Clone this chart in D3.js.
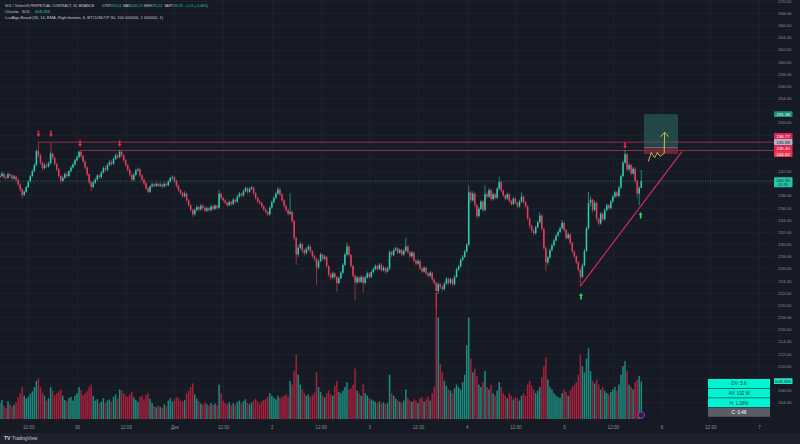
<!DOCTYPE html>
<html><head><meta charset="utf-8">
<script src="https://cdn.jsdelivr.net/npm/d3@7"></script>
<style>
html,body{margin:0;padding:0;background:#161a25;overflow:hidden;}
svg{display:block;font-family:"Liberation Sans",Arial,sans-serif;}
</style></head><body>
<svg id="c" width="800" height="444"></svg>
<script>
// ---------------- DATA ----------------
const firstOpen = 241.0;
const closes = [
241.2,241.6,241.0,240.9,241.5,241.3,240.8,241.1,240.6,239.8,
239.0,238.1,238.6,239.4,240.3,241.2,242.0,243.0,245.3,244.6,
243.4,242.5,243.0,242.8,243.3,244.9,244.2,243.2,242.3,241.2,
240.4,240.9,241.5,241.2,242.0,242.6,243.1,243.8,244.3,245.2,
244.5,243.6,242.6,241.5,240.2,239.4,240.1,240.6,241.3,241.0,
241.8,242.5,242.2,243.0,243.5,243.2,244.0,244.6,244.3,245.2,
244.6,243.8,243.0,242.2,241.4,240.6,241.4,242.1,242.3,241.3,
240.6,240.0,239.2,238.6,239.5,239.8,239.6,239.9,239.6,239.8,
239.5,239.9,239.7,240.3,240.9,241.0,240.4,239.6,238.9,238.4,
237.9,238.3,237.2,236.4,235.6,234.9,235.6,236.1,235.7,236.3,
236.0,235.5,235.9,235.6,236.2,235.8,236.3,236.0,238.3,237.6,
237.2,236.8,236.4,236.9,236.6,237.3,237.0,237.8,238.3,238.0,
238.7,239.2,238.6,239.1,239.3,238.4,237.6,237.0,236.8,236.2,
235.7,235.3,234.9,236.0,236.9,237.6,238.3,239.0,238.2,237.2,
236.3,235.6,235.0,235.3,233.8,231.0,228.3,229.4,230.0,229.0,
228.5,229.2,229.6,228.8,228.0,227.6,226.2,227.2,228.3,227.6,
227.9,226.4,225.0,224.5,225.2,224.6,223.6,224.4,225.3,226.6,
228.3,229.6,228.2,226.4,224.8,223.7,224.5,223.8,224.6,223.6,
224.5,225.2,224.6,225.4,225.9,226.4,225.9,226.6,225.7,226.1,
225.5,226.0,228.7,228.2,229.0,229.3,228.6,229.0,228.3,228.9,
229.6,228.7,228.0,228.6,227.3,226.8,227.2,226.0,225.5,226.1,
225.2,224.8,225.3,224.2,223.6,222.3,223.4,223.0,222.6,223.5,
224.3,223.6,224.2,223.4,224.6,225.8,226.3,227.4,227.9,228.8,
229.9,238.5,237.2,238.3,236.4,234.6,235.8,237.0,235.6,238.2,
237.8,238.9,237.4,238.2,237.6,239.1,240.2,238.8,238.0,237.5,
238.2,237.1,236.6,237.5,236.8,236.2,237.0,237.8,236.9,236.2,
234.2,233.0,232.2,231.8,232.8,233.6,234.7,232.5,229.4,227.0,
227.8,229.0,229.8,230.6,231.4,232.0,232.6,233.5,232.3,231.0,
231.6,230.2,228.8,228.0,227.0,225.8,224.6,226.5,228.9,232.6,
236.8,237.3,235.6,236.8,234.2,233.4,235.0,234.1,235.6,236.4,
235.9,237.0,237.8,238.5,237.9,239.3,241.2,243.4,244.8,242.3,
243.0,241.6,242.4,240.4,238.3,239.24,240.35
];
const highs = [
241.6,241.9,241.8,241.3,241.8,241.7,241.5,241.4,241.3,240.8,
240.0,239.2,238.9,239.6,240.5,241.4,242.3,243.3,245.6,246.77,
244.9,243.6,243.3,243.4,243.6,245.3,245.1,244.4,243.4,242.5,
241.4,241.2,241.8,241.9,242.2,242.9,243.4,244.0,244.6,245.4,
245.4,244.7,243.8,242.8,241.7,240.4,240.4,240.9,241.5,241.6,
242.0,242.8,242.9,243.3,243.8,243.9,244.3,244.9,244.9,245.5,
245.4,244.8,244.0,243.2,242.4,241.6,241.7,242.4,242.6,242.5,
241.5,240.8,240.2,239.4,239.7,240.1,240.0,240.2,240.1,240.1,
240.0,240.2,240.1,240.6,241.1,241.3,241.2,240.6,239.8,239.1,
238.6,238.7,238.5,237.4,236.6,235.8,235.9,236.4,236.3,236.6,
236.6,236.2,236.2,236.1,236.5,236.4,236.6,236.5,238.9,238.5,
237.8,237.4,237.0,237.2,237.1,237.6,237.5,238.1,238.6,238.5,
239.0,239.5,239.4,239.4,239.6,239.5,238.6,237.8,237.3,237.0,
236.4,235.9,235.5,236.3,237.2,237.9,238.6,239.4,239.2,238.4,
237.4,236.5,235.8,238.4,235.5,234.0,231.2,229.8,230.4,230.2,
229.3,229.5,229.9,229.8,229.0,228.3,227.8,227.5,228.6,228.5,
228.2,228.1,226.6,225.3,225.5,225.4,224.8,224.7,225.6,226.9,
228.6,230.3,229.8,228.4,226.6,225.0,224.8,224.7,224.9,224.8,
224.8,225.5,225.4,225.7,226.2,226.7,226.6,226.9,226.8,226.4,
226.3,226.3,229.0,228.9,229.3,229.6,229.5,229.3,229.2,229.2,
231.0,229.8,228.9,228.9,228.8,227.5,227.5,227.4,226.2,226.4,
226.3,225.4,225.6,225.5,224.4,223.8,223.7,223.6,223.2,223.8,
224.6,224.5,224.5,224.4,224.9,226.1,226.6,227.7,228.2,229.1,
230.2,239.7,238.8,238.7,238.5,236.6,236.1,237.3,237.2,239.7,
238.6,239.2,239.1,238.5,238.4,239.4,241.1,240.4,239.0,238.2,
238.5,238.4,237.3,237.8,237.7,237.0,237.3,238.5,238.0,237.1,
236.4,234.4,233.2,232.5,233.1,233.9,235.2,234.9,232.7,229.6,
228.1,229.3,230.1,230.9,231.7,232.3,232.9,234.0,233.7,232.5,
231.9,231.8,230.4,229.0,228.2,227.2,226.0,226.8,229.2,232.9,
238.6,237.9,237.5,237.2,237.0,234.4,235.3,235.2,235.9,236.7,
236.6,237.3,238.1,238.8,238.7,239.6,241.5,243.7,245.5,245.0,
243.4,243.2,242.7,242.6,240.6,239.6,242.19
];
const lows = [
240.8,241.0,240.7,240.5,240.7,241.0,240.5,240.6,240.3,239.5,
238.6,237.6,237.9,238.4,239.2,240.1,241.0,241.8,242.8,244.2,
243.0,242.1,242.3,242.5,242.6,243.1,243.9,242.9,242.0,240.9,
240.0,240.2,240.7,240.9,241.0,241.8,242.4,242.9,243.6,244.1,
244.2,243.3,242.3,241.2,239.9,238.7,239.2,239.9,240.4,240.7,
240.8,241.6,241.9,242.0,242.8,242.9,243.0,243.8,244.0,244.1,
244.3,243.5,242.7,241.9,241.1,240.3,240.4,241.2,241.9,241.0,
240.3,239.7,238.9,238.4,238.4,239.3,239.3,239.4,239.4,239.4,
239.2,239.3,239.4,239.5,240.1,240.6,240.1,239.3,238.6,238.1,
237.6,237.7,236.9,236.1,235.3,234.5,234.7,235.4,235.4,235.5,
235.7,235.2,235.3,235.3,235.4,235.5,235.6,235.7,235.8,237.3,
236.9,236.5,236.1,236.2,236.3,236.4,236.7,236.8,237.6,237.7,
237.8,238.5,238.3,238.4,238.9,238.1,237.3,236.7,236.5,235.9,
235.4,235.0,234.6,234.7,235.8,236.7,237.4,238.1,237.9,236.9,
236.0,235.3,234.7,234.8,233.5,230.6,226.6,227.9,229.1,228.6,
228.1,228.3,228.9,228.5,227.7,227.2,223.3,225.9,227.0,227.3,
227.3,226.1,224.6,224.1,224.3,224.2,222.2,223.4,224.2,225.1,
226.4,228.1,227.9,226.1,224.5,220.8,223.4,223.5,223.6,222.0,
223.4,224.3,224.3,224.4,225.2,225.7,225.6,225.7,225.4,225.5,
225.1,225.3,225.8,227.9,228.0,228.8,228.3,228.4,228.0,228.1,
228.7,228.4,227.7,227.8,227.0,226.5,226.6,225.7,225.2,225.3,
224.9,224.5,224.6,223.9,223.3,219.5,221.8,222.6,222.2,222.4,
223.3,223.3,223.4,223.1,223.2,224.4,225.6,226.1,227.2,227.7,
228.6,229.7,236.8,237.0,236.0,234.2,234.4,235.6,235.3,235.4,
237.5,237.6,237.1,237.2,237.3,237.4,238.9,238.5,237.7,237.2,
237.3,236.8,236.3,236.4,236.5,235.9,236.0,236.8,236.6,235.9,
233.9,232.6,231.9,231.4,231.6,232.6,233.4,232.2,229.0,225.6,
226.6,227.6,228.8,229.6,230.4,231.2,231.8,232.4,232.0,230.7,
230.8,229.9,228.5,227.7,226.7,225.5,223.1,224.4,226.3,228.7,
232.4,236.2,235.2,235.4,233.8,233.0,233.2,233.8,233.9,235.4,
235.6,235.7,236.8,237.6,237.6,237.7,239.1,241.0,243.2,242.0,
242.0,241.3,241.4,240.1,237.5,236.4,239.24
];
const volumesK = [
260,310,220,180,290,240,200,230,270,350,
420,520,380,330,360,410,450,520,620,660,
520,430,380,300,340,520,460,390,420,450,
480,380,310,290,340,360,300,380,420,520,
470,390,420,450,520,560,380,300,320,260,
280,340,260,300,320,280,360,400,330,480,
460,420,380,360,400,440,350,310,280,360,
380,320,400,420,330,260,210,190,220,200,
180,240,210,300,340,280,320,360,340,300,
280,310,420,460,520,580,400,330,290,250,
230,270,240,220,260,230,250,220,560,420,
300,260,240,270,220,260,230,280,300,250,
290,320,260,240,270,300,330,280,250,290,
310,330,360,420,380,350,320,380,340,360,
380,400,360,620,560,780,1050,720,560,480,
420,380,400,360,390,430,760,520,440,380,
350,420,460,400,380,540,620,440,420,460,
520,600,480,500,560,820,460,420,380,560,
420,380,340,320,300,280,260,290,250,270,
240,260,720,420,380,330,300,280,260,300,
480,340,300,280,320,300,260,340,360,280,
320,360,300,420,520,2050,1650,900,760,620,
540,480,460,420,500,560,520,480,600,720,
1200,1650,980,760,820,700,560,520,600,780,
520,480,560,420,380,460,600,520,420,380,
340,420,380,320,360,340,300,380,420,380,
560,620,540,480,420,460,520,680,860,1000,
640,520,480,420,380,360,340,420,480,440,
380,460,520,560,600,720,1050,860,760,980,
1150,780,620,580,640,560,480,520,460,420,
400,440,480,520,460,560,720,860,940,780,
560,520,480,600,640,700,608.36
];
const priceTicks = [270,268,266,264,262,260,258,256,254,252,250,248,246,244,242,240,238,236,234,232,230,228,226,224,222,220,218,216,214,212,210,208,206,204];
const timeTickDates = ["2024-11-29T12:00Z","2024-11-30T00:00Z","2024-11-30T12:00Z","2024-12-01T00:00Z","2024-12-01T12:00Z","2024-12-02T00:00Z","2024-12-02T12:00Z","2024-12-03T00:00Z","2024-12-03T12:00Z","2024-12-04T00:00Z","2024-12-04T12:00Z","2024-12-05T00:00Z","2024-12-05T12:00Z","2024-12-06T00:00Z","2024-12-06T12:00Z","2024-12-07T00:00Z"];
const timeTickLabels = ["12:00","30","12:00","Дек","12:00","2","12:00","3","12:00","4","12:00","5","12:00","6","12:00","7"];
const legendTitle = "SOL / TetherUS PERPETUAL CONTRACT, 30, BINANCE";
const legendOHLCNames = ["ОТКР","МАКС","МИН","ЗАКР"];
const legendOHLCValues = ["239,24","242,19","239,24","240,35"];
const legendChange = "+1,11 (+0,46%)";
const legendVolume = ["Объём · SOL","608,36K"];
const legendIndicator = "LuxAlgo Board (30, 14, EMA, Right bottom, 6, BTCUSDT.P 30, 100 000000, 1 000000, 1)";
// annotations (candle index, price)
const resistanceLines = [{from:19, price:246.77},{from:39.5, price:245.40}];
const downArrows = [[19,247.6],[25.2,247.6],[39.5,245.97],[59,245.97],[308,245.7]];
const upArrows = [[286.3,221.96],[315.7,235.28]];
const trendLine = [[286,223.1],[336,245.2]];
const positionBox = {start:317.3, end:334.1, target:251.38, entry:245.88, stop:244.82};
const zigzag = [[319.4,243.56],[320.9,245.05],[322.6,244.22],[323.9,245.05],[325.2,244.44],[327.3,244.94],[327.5,248.39]];
const zigzagHead = [[325.5,247.65],[327.5,248.39],[329.5,247.65]];
const currentPrice = 240.35;
const countdown = "11:35";
const lastVolumeLabel = "608.36K";
const axisTags = [
  {price:251.38, text:"251.38", bg:"#1f8f7c", fg:"#e8fff9"},
  {price:246.77, text:"246.77", bg:"#e0245e", fg:"#ffffff", y:136},
  {price:245.88, text:"245.88", bg:"#b2b5be", fg:"#20232c", y:142},
  {price:245.40, text:"245.40", bg:"#e0245e", fg:"#ffffff", y:148},
  {price:244.82, text:"244.82", bg:"#f23645", fg:"#ffffff", y:154}
];
const boardRows = ["DV: 5.6","AV: 132 M","H: 1.28%","C: 0.48"];

// ---------------- SCALES ----------------
const W = 800, H = 444, plotRight = 775, paneBottom = 421;
const t0 = Date.UTC(2024,10,29,5,0);
const step = 30*60000;
const xT = d3.scaleUtc().domain([new Date("2024-11-30T00:00Z"), new Date("2024-12-07T00:00Z")]).range([77, 759]);
const xi = i => xT(new Date(t0 + i*step));
const y = d3.scaleLinear().domain([202, 270]).range([414.4, 0.9]);
const yv = d3.scaleLinear().domain([0, 2050]).range([419, 293]);

const svg = d3.select("#c");
svg.append("rect").attr("width",W).attr("height",H).attr("fill","#161a25");
svg.append("rect").attr("x",0).attr("y",433).attr("width",W).attr("height",11).attr("fill","#1e222d");

const clip = svg.append("defs").append("clipPath").attr("id","pc");
clip.append("rect").attr("x",0).attr("y",0).attr("width",plotRight).attr("height",paneBottom);

// grid
const grid = svg.append("g");
grid.selectAll("line.h").data(priceTicks).join("line")
  .attr("x1",0).attr("x2",plotRight).attr("y1",d=>Math.round(y(d))+0.5).attr("y2",d=>Math.round(y(d))+0.5)
  .attr("stroke","#1c202b").attr("stroke-width",1);
grid.selectAll("line.v").data(timeTickDates).join("line")
  .attr("x1",d=>Math.round(xT(new Date(d)))+0.5).attr("x2",d=>Math.round(xT(new Date(d)))+0.5)
  .attr("y1",0).attr("y2",paneBottom).attr("stroke","#1c202b").attr("stroke-width",1);

const plot = svg.append("g").attr("clip-path","url(#pc)");

// candles data
const candles = closes.map((c,i)=>{
  const o = i===0 ? firstOpen : closes[i-1];
  return {i, o, c, h:highs[i], l:lows[i], v:volumesK[i], up:c>=o};
});
const GREEN="#2bcfb2", RED="#e5415c", VGREEN="#1c9a88", VRED="#b8203f";

// volume
plot.append("g").selectAll("rect").data(candles).join("rect")
  .attr("x",d=>xi(d.i)-0.75).attr("width",1.5)
  .attr("y",d=>yv(d.v)).attr("height",d=>yv(0)-yv(d.v))
  .attr("fill",d=>d.up?VGREEN:VRED).attr("opacity",0.9);

// reference lines
plot.selectAll("line.res").data(resistanceLines).join("line")
  .attr("x1",d=>xi(d.from)).attr("x2",plotRight)
  .attr("y1",d=>y(d.price)).attr("y2",d=>y(d.price))
  .attr("stroke","#a3304f").attr("stroke-width",0.9);
plot.append("line").attr("x1",xi(25.2)).attr("x2",xi(25.2))
  .attr("y1",y(246.77)).attr("y2",y(highs[25])).attr("stroke","#a3304f").attr("stroke-width",0.9);

// current price dotted line
plot.append("line").attr("x1",0).attr("x2",plotRight)
  .attr("y1",y(currentPrice)).attr("y2",y(currentPrice))
  .attr("stroke","#2a8f83").attr("stroke-width",0.8).attr("stroke-dasharray","1,1.5");

// position box
const pb = positionBox;
plot.append("rect").attr("x",xi(pb.start)).attr("width",xi(pb.end)-xi(pb.start))
  .attr("y",y(pb.target)).attr("height",y(pb.entry)-y(pb.target))
  .attr("fill","#2f6e66").attr("opacity",0.55);
plot.append("rect").attr("x",xi(pb.start)).attr("width",xi(pb.end)-xi(pb.start))
  .attr("y",y(pb.entry)).attr("height",y(pb.stop)-y(pb.entry))
  .attr("fill","#7a2a40").attr("opacity",0.8);
plot.append("line").attr("x1",xi(pb.start)).attr("x2",xi(pb.end))
  .attr("y1",y(pb.entry)).attr("y2",y(pb.entry)).attr("stroke","#8c8f99").attr("stroke-width",0.6);

// candles
const cg = plot.append("g");
cg.selectAll("line").data(candles).join("line")
  .attr("x1",d=>xi(d.i)).attr("x2",d=>xi(d.i))
  .attr("y1",d=>y(d.h)).attr("y2",d=>y(d.l))
  .attr("stroke",d=>d.up?GREEN:RED).attr("stroke-width",0.6);
cg.selectAll("rect").data(candles).join("rect")
  .attr("x",d=>xi(d.i)-0.75).attr("width",1.5)
  .attr("y",d=>y(Math.max(d.o,d.c)))
  .attr("height",d=>Math.max(0.6, Math.abs(y(d.o)-y(d.c))))
  .attr("fill",d=>d.up?GREEN:RED);

// trend line
plot.append("line").attr("x1",xi(trendLine[0][0])).attr("y1",y(trendLine[0][1]))
  .attr("x2",xi(trendLine[1][0])).attr("y2",y(trendLine[1][1]))
  .attr("stroke","#e02a6a").attr("stroke-width",1.1);

// zigzag
const lg = d3.line().x(d=>xi(d[0])).y(d=>y(d[1]));
plot.append("path").attr("d",lg(zigzag)).attr("fill","none").attr("stroke","#d8cc3a").attr("stroke-width",0.9);
plot.append("path").attr("d",lg(zigzagHead)).attr("fill","none").attr("stroke","#d8cc3a").attr("stroke-width",0.9);

// arrows
function arrowPath(x, tipY, dir){ // dir 1 = down, -1 = up
  const h=6.5, hw=1.9, sw=0.8, hh=3;
  const b = tipY - dir*h, n = tipY - dir*hh;
  return `M${x-sw},${b} L${x+sw},${b} L${x+sw},${n} L${x+hw},${n} L${x},${tipY} L${x-hw},${n} L${x-sw},${n} Z`;
}
plot.selectAll("path.da").data(downArrows).join("path")
  .attr("d",d=>arrowPath(xi(d[0]), y(d[1]), 1)).attr("fill","#f0263f");
plot.selectAll("path.ua").data(upArrows).join("path")
  .attr("d",d=>arrowPath(xi(d[0]), y(d[1]), -1)).attr("fill","#1fe36a");

// purple marker
svg.append("circle").attr("cx",xi(316)).attr("cy",415).attr("r",3.2)
  .attr("fill","#2a1f3d").attr("stroke","#9b3bd6").attr("stroke-width",0.9);

// board table
const bx=708, bw=62, rowH=9.6, by=379;
const bg = svg.append("g");
boardRows.forEach((t,k)=>{
  const last = k===boardRows.length-1;
  bg.append("rect").attr("x",bx).attr("y",by+k*rowH).attr("width",bw).attr("height",rowH-0.6)
    .attr("fill", last?"#5a5d66":"#00f5d4");
  bg.append("text").attr("x",bx+bw/2).attr("y",by+k*rowH+rowH/2+1.5).attr("text-anchor","middle")
    .attr("font-size",4.6).attr("fill", last?"#ffffff":"#1d3b36").text(t);
});

// axis tags positions (for hiding colliding tick labels)
const tagList = axisTags.map(t=>({yc: t.y!==undefined?t.y:y(t.price), text:t.text, bg:t.bg, fg:t.fg}));
tagList.push({yc:y(currentPrice)-1, text:d3.format(".2f")(currentPrice), bg:"#21c7a8", fg:"#0f2e29", extra:countdown});
tagList.push({yc:yv(volumesK[volumesK.length-1])-0.5, text:lastVolumeLabel, bg:"#1ee8c6", fg:"#0f2e29"});
function hidden(p){
  const yy = y(p);
  return tagList.some(t=>{
    const top = t.yc-2.9-2.5, bot = t.yc-2.9+(t.extra?10:5.8)+2.5;
    return yy>top && yy<bot;
  });
}

// price axis
const ax = svg.append("g").attr("transform",`translate(${plotRight},0)`)
  .call(d3.axisRight(y).tickValues(priceTicks.filter(p=>!hidden(p))).tickFormat(d3.format(".2f")).tickSize(0).tickPadding(3));
ax.select(".domain").remove();
ax.selectAll("text").attr("font-size",4.4).attr("fill","#8c909a").attr("font-family","Liberation Sans, Arial");

// axis tags
tagList.forEach(t=>{
  const g = svg.append("g");
  const hgt = t.extra?10:5.8;
  g.append("rect").attr("x",plotRight-1).attr("y",t.yc-2.9).attr("width",18.5).attr("height",hgt).attr("fill",t.bg).attr("rx",0.6);
  g.append("text").attr("x",plotRight+8.2).attr("y",t.yc+1.5).attr("text-anchor","middle").attr("font-size",4.4).attr("fill",t.fg).text(t.text);
  if(t.extra) g.append("text").attr("x",plotRight+8.2).attr("y",t.yc+5.9).attr("text-anchor","middle").attr("font-size",4).attr("fill",t.fg).text(t.extra);
});

// time axis
const tx = svg.append("g").attr("transform",`translate(0,${paneBottom})`)
  .call(d3.axisBottom(xT).tickValues(timeTickDates.map(d=>new Date(d))).tickFormat((d,k)=>timeTickLabels[k]).tickSize(0).tickPadding(5));
tx.select(".domain").remove();
tx.selectAll("text").attr("font-size",4.6).attr("fill","#8c909a").attr("font-family","Liberation Sans, Arial");

// legend
const lgd = svg.append("g");
lgd.append("text").attr("x",5).attr("y",7).attr("fill","#c9ccd4").attr("font-size",3.5).text(legendTitle);
const groupX = [102, 123, 144, 164];
legendOHLCNames.forEach((nm,k)=>{
  const t = lgd.append("text").attr("x",groupX[k]).attr("y",7).attr("font-size",3.4);
  t.append("tspan").attr("fill","#c9ccd4").text(nm);
  t.append("tspan").attr("fill","#26c2a6").text(legendOHLCValues[k]);
});
lgd.append("text").attr("x",185).attr("y",7).attr("fill","#26c2a6").attr("font-size",3.4).text(legendChange);
lgd.append("text").attr("x",5).attr("y",12.8).attr("fill","#c9ccd4").attr("font-size",4.2).text(legendVolume[0]);
lgd.append("text").attr("x",35).attr("y",12.8).attr("fill","#26c2a6").attr("font-size",4.2).text(legendVolume[1]);
lgd.append("text").attr("x",5).attr("y",18.5).attr("fill","#c9ccd4").attr("font-size",4)
  .text(legendIndicator);

// TradingView logo
const lo = svg.append("g");
lo.append("text").attr("x",4).attr("y",440).attr("font-size",5).attr("font-weight","bold").attr("fill","#d1d4dc").text("TV");
lo.append("text").attr("x",12).attr("y",440).attr("font-size",4.6).attr("fill","#c9ccd4").text("TradingView");
</script>
</body></html>
